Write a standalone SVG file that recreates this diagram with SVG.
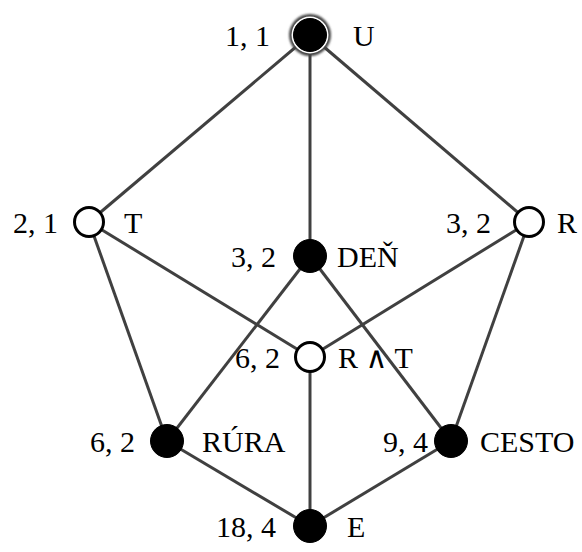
<svg xmlns="http://www.w3.org/2000/svg" width="582" height="552" viewBox="0 0 582 552">
  <defs>
    <filter id="soft" x="-50%" y="-50%" width="200%" height="200%">
      <feGaussianBlur stdDeviation="1.3"/>
    </filter>
  </defs>
  <style>
    .edge { stroke: #404040; stroke-width: 3; fill: none; }
    .full { fill: #000; stroke: #000; stroke-width: 1; }
    .empty { fill: #fff; stroke: #000; stroke-width: 3; }
    text { font-family: "Liberation Serif", "Times New Roman", "DejaVu Serif", serif; font-size: 30px; fill: #000; }
    .l { text-anchor: end; }
  </style>
  <rect width="582" height="552" fill="#fff"/>

  <!-- lattice edges -->
  <g id="edges">
    <line class="edge" x1="310" y1="35" x2="89" y2="222"/>
    <line class="edge" x1="310" y1="35" x2="310" y2="256"/>
    <line class="edge" x1="310" y1="35" x2="529" y2="222"/>
    <line class="edge" x1="89" y1="222" x2="167" y2="441"/>
    <line class="edge" x1="89" y1="222" x2="310" y2="357"/>
    <line class="edge" x1="529" y1="222" x2="310" y2="357"/>
    <line class="edge" x1="529" y1="222" x2="451" y2="441"/>
    <line class="edge" x1="310" y1="256" x2="167" y2="441"/>
    <line class="edge" x1="310" y1="256" x2="451" y2="441"/>
    <line class="edge" x1="310" y1="357" x2="310" y2="526"/>
    <line class="edge" x1="167" y1="441" x2="310" y2="526"/>
    <line class="edge" x1="451" y1="441" x2="310" y2="526"/>
  </g>

  <!-- top element with highlight ring -->
  <g id="node-U" font-family="Liberation Serif, Times New Roman, serif">
    <circle cx="310" cy="35" r="21" fill="#444" filter="url(#soft)"/>
    <circle cx="310" cy="35" r="18.5" fill="#fff"/>
    <circle class="full" cx="310" cy="35" r="16.5"/>
    <text class="l" x="270" y="46">1, 1</text>
    <text x="353" y="46">U</text>
  </g>

  <g id="node-T" font-family="Liberation Serif, Times New Roman, serif">
    <circle class="empty" cx="89" cy="222" r="14.5"/>
    <text class="l" x="58" y="233">2, 1</text>
    <text x="124" y="233">T</text>
  </g>

  <g id="node-DEN" font-family="Liberation Serif, Times New Roman, serif">
    <circle class="full" cx="310" cy="256" r="16.5"/>
    <text class="l" x="276" y="267">3, 2</text>
    <text x="337" y="267">DEŇ</text>
  </g>

  <g id="node-R" font-family="Liberation Serif, Times New Roman, serif">
    <circle class="empty" cx="529" cy="222" r="14.5"/>
    <text class="l" x="491" y="233">3, 2</text>
    <text x="557" y="233">R</text>
  </g>

  <g id="node-RT" font-family="Liberation Serif, Times New Roman, serif">
    <circle class="empty" cx="310" cy="357" r="14.5"/>
    <text class="l" x="280" y="368">6, 2</text>
    <text x="338" y="368">R ∧ T</text>
  </g>

  <g id="node-RURA" font-family="Liberation Serif, Times New Roman, serif">
    <circle class="full" cx="167" cy="441" r="16.5"/>
    <text class="l" x="135" y="452">6, 2</text>
    <text x="202" y="452">RÚRA</text>
  </g>

  <g id="node-CESTO" font-family="Liberation Serif, Times New Roman, serif">
    <circle class="full" cx="451" cy="441" r="16.5"/>
    <text class="l" x="428" y="452">9, 4</text>
    <text x="480" y="452">CESTO</text>
  </g>

  <g id="node-E" font-family="Liberation Serif, Times New Roman, serif">
    <circle class="full" cx="310" cy="526" r="16.5"/>
    <text class="l" x="276" y="537">18, 4</text>
    <text x="347" y="537">E</text>
  </g>
</svg>
